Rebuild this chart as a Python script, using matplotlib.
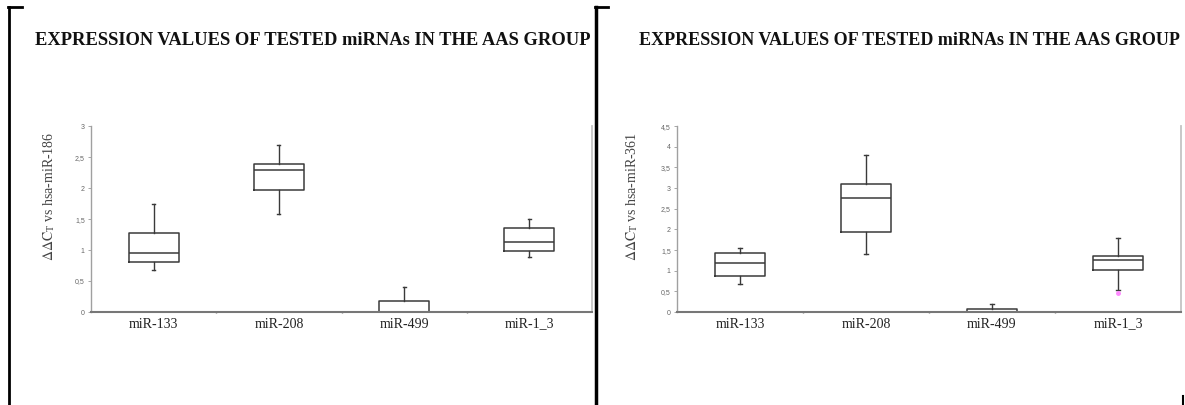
import matplotlib
matplotlib.use("Agg")
import matplotlib.pyplot as plt
from matplotlib.lines import Line2D

plt.rcParams['mathtext.fontset'] = 'stix'

mirnas = ["miR-133", "miR-208", "miR-499", "miR-1_3"]

# box summaries (whislo, q1, median, q3, whishi), normalised to hsa-miR-186
ref186_whislo = [0.68, 1.58, 0.0, 0.88]
ref186_q1 = [0.80, 1.97, 0.0, 0.98]
ref186_med = [0.95, 2.29, 0.0, 1.13]
ref186_q3 = [1.28, 2.39, 0.18, 1.35]
ref186_whishi = [1.74, 2.70, 0.41, 1.50]
ref186_fliers = [[], [], [], []]

# same miRNAs normalised to hsa-miR-361
ref361_whislo = [0.67, 1.40, 0.0, 0.53]
ref361_q1 = [0.86, 1.93, 0.0, 1.02]
ref361_med = [1.18, 2.76, 0.0, 1.25]
ref361_q3 = [1.42, 3.11, 0.08, 1.36]
ref361_whishi = [1.54, 3.80, 0.19, 1.80]
ref361_fliers = [[], [], [], [0.45]]

ticks186 = [0, 0.5, 1, 1.5, 2, 2.5, 3]
labels186 = ["0", "0,5", "1", "1,5", "2", "2,5", "3"]
ticks361 = [0, 0.5, 1, 1.5, 2, 2.5, 3, 3.5, 4, 4.5]
labels361 = ["0", "0,5", "1", "1,5", "2", "2,5", "3", "3,5", "4", "4,5"]

title = "EXPRESSION VALUES OF TESTED miRNAs IN THE AAS GROUP"
box_col = "#3a3a3a"


def make_stats(lo, q1, med, q3, hi, fl):
    out = []
    for i in range(len(mirnas)):
        out.append(dict(whislo=lo[i], q1=q1[i], med=med[i], q3=q3[i],
                        whishi=hi[i], fliers=fl[i], label=mirnas[i]))
    return out


def draw_panel(ax, stats, ticks, labels, ref, label_x):
    ax.bxp(stats, positions=range(len(mirnas)), widths=0.4, showfliers=True,
           boxprops=dict(color=box_col, linewidth=1.1),
           medianprops=dict(color=box_col, linewidth=1.1),
           whiskerprops=dict(color=box_col, linewidth=1.0),
           capprops=dict(color=box_col, linewidth=1.0),
           capwidths=0.025,
           flierprops=dict(marker='o', markersize=2.5, markerfacecolor='#ff88ff',
                           markeredgecolor='#ff88ff'))
    ax.set_xlim(-0.5, len(mirnas) - 0.5)
    ax.set_ylim(0, ticks[-1])
    ax.set_yticks(ticks)
    ax.set_yticklabels(labels, family='Liberation Sans', fontsize=5, color='#666666')
    ax.set_xticks(range(len(mirnas)))
    ax.set_xticklabels(mirnas, family='Liberation Serif', fontsize=10, color='#222222')
    ax.set_xticks([0.5, 1.5, 2.5], minor=True)
    ax.tick_params(axis='x', which='major', length=0, pad=4)
    ax.tick_params(axis='x', which='minor', length=2, width=1, color='#777777', direction='inout')
    ax.tick_params(axis='y', length=2.5, width=0.6, color='#999999', pad=2)
    ax.spines['top'].set_visible(False)
    ax.spines['left'].set_color('#a0a0a0')
    ax.spines['left'].set_linewidth(1.0)
    ax.spines['bottom'].set_color('#777777')
    ax.spines['bottom'].set_linewidth(1.5)
    ax.spines['right'].set_color('#c4c4c4')
    ax.spines['right'].set_linewidth(1.3)
    ax.set_ylabel(r'$\Delta\Delta\mathrm{C}_\mathrm{T}$' + ' vs hsa-' + ref,
                  family='Liberation Serif', fontsize=10, color='#444444')
    ax.yaxis.set_label_coords(label_x, 0.62)


fig = plt.figure(figsize=(11.85, 4.05), dpi=100)
ax1 = fig.add_axes([0.0768, 0.2296, 0.4228, 0.459])
ax2 = fig.add_axes([0.5713, 0.2296, 0.4253, 0.459])

draw_panel(ax1, make_stats(ref186_whislo, ref186_q1, ref186_med, ref186_q3,
                           ref186_whishi, ref186_fliers), ticks186, labels186, "miR-186", -0.068)
draw_panel(ax2, make_stats(ref361_whislo, ref361_q1, ref361_med, ref361_q3,
                           ref361_whishi, ref361_fliers), ticks361, labels361, "miR-361", -0.073)

fig.text(0.2637, 0.90, title, family='Liberation Serif', weight='bold', fontsize=13.3,
         ha='center', va='center', color='#111111')
fig.text(0.7675, 0.90, title, family='Liberation Serif', weight='bold', fontsize=13.0,
         ha='center', va='center', color='#111111')

# table borders around the two panels
W, H = 1185.0, 405.0
for x0, x1, y0, y1, lw in [(9, 9, 7, 405, 2.0), (8, 22, 7, 7, 2.0),
                           (596, 596, 7, 405, 2.5), (595, 608, 7, 7, 2.0),
                           (1183, 1183, 396, 405, 1.5)]:
    fig.add_artist(Line2D([x0 / W, x1 / W], [1 - y0 / H, 1 - y1 / H],
                          color='black', linewidth=lw))

fig.savefig("out.png", dpi=100)
